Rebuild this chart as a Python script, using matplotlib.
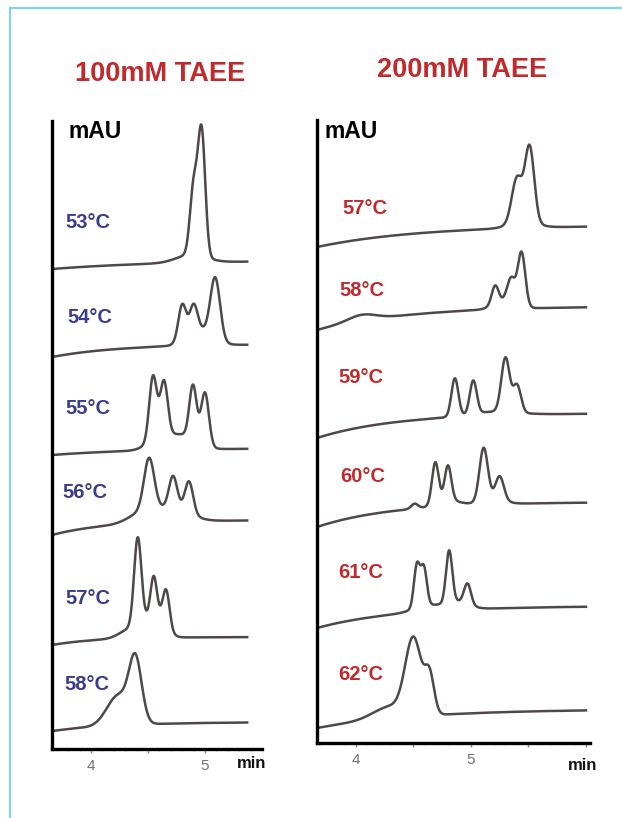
import numpy as np
import matplotlib
matplotlib.use("Agg")
import matplotlib.pyplot as plt
from matplotlib.lines import Line2D
from matplotlib.ticker import FixedLocator, MultipleLocator

plt.rcParams['font.family'] = ["Liberation Sans", "DejaVu Sans"]

W, H = 622, 818

# ---------------- data ----------------
panel_titles = ["100mM TAEE", "200mM TAEE"]
left_temps = ["53°C", "54°C", "55°C", "56°C", "57°C", "58°C"]
right_temps = ["57°C", "58°C", "59°C", "60°C", "61°C", "62°C"]
tick_values = [4, 5]
tick_labels = ["4", "5"]

# baselines: (start level, end level, drift time constant in min)
left_baselines = [(480, 489, 1.0), (392, 405, 0.6), (294, 301, 0.8),
                  (214, 229, 0.5), (104, 112, 0.4), (18, 27, 0.6)]
right_baselines = [(496, 518, 0.9), (413, 437, 0.8), (305, 330, 0.68),
                   (216, 241, 0.65), (115, 137, 0.7), (15, 34, 0.9)]

# broad humps: (time, amplitude, width)
left_humps = [[(4.88, 8, 0.13)],
              [(4.95, 16, 0.11)],
              [(4.59, 10, 0.10), (4.80, 14, 0.12)],
              [(4.45, 10, 0.12), (4.72, 14, 0.14)],
              [(4.36, 10, 0.10), (4.56, 24, 0.08)],
              [(4.24, 30, 0.10)]]
right_humps = [[(5.45, 6, 0.12)],
               [(4.05, 6, 0.12), (5.30, 8, 0.10)],
               [(5.20, 4, 0.20)],
               [(4.51, 5, 0.03), (4.80, 6, 0.10), (5.18, 6, 0.10)],
               [(4.62, 6, 0.12), (4.88, 8, 0.10)],
               [(4.30, 12, 0.15)]]

# peaks: (retention time [min], apex height above baseline, width)
peaks_L53 = [(4.90, 86, 0.032), (4.97, 137, 0.032)]
peaks_L54 = [(4.80, 42, 0.034), (4.90, 42, 0.034), (5.09, 68, 0.042)]
peaks_L55 = [(4.544, 75, 0.033), (4.64, 70, 0.033), (4.895, 65, 0.032), (5.00, 57, 0.034)]
peaks_L56 = [(4.51, 65, 0.045), (4.72, 46, 0.036), (4.86, 40, 0.036)]
peaks_L57 = [(4.41, 101, 0.032), (4.55, 62, 0.027), (4.66, 48, 0.030)]
peaks_L58 = [(4.39, 71, 0.055)]

peaks_R57 = [(5.40, 52, 0.045), (5.51, 83, 0.040)]
peaks_R58 = [(5.21, 24, 0.030), (5.35, 32, 0.035), (5.44, 57, 0.032)]
peaks_R59 = [(4.86, 39, 0.030), (5.02, 36, 0.030), (5.30, 58, 0.036), (5.40, 31, 0.034)]
peaks_R60 = [(4.69, 45, 0.029), (4.80, 41, 0.029), (5.11, 57, 0.036), (5.25, 28, 0.036)]
peaks_R61 = [(4.53, 50, 0.026), (4.59, 47, 0.026), (4.81, 60, 0.027), (4.97, 26, 0.030)]
peaks_R62 = [(4.50, 80, 0.070), (4.64, 48, 0.040)]

left_peaks = [peaks_L53, peaks_L54, peaks_L55, peaks_L56, peaks_L57, peaks_L58]
right_peaks = [peaks_R57, peaks_R58, peaks_R59, peaks_R60, peaks_R61, peaks_R62]

# label positions (pixels)
left_label_xy = [(88, 223), (90, 317), (88, 409), (85, 493), (88, 598), (87, 685)]
right_label_xy = [(365, 208), (362, 290), (361, 378), (363, 476), (361, 572), (361, 675)]

# ---------------- helpers ----------------
def gauss(t, c, a, s):
    return a * np.exp(-0.5 * ((t - c) / s) ** 2)


def trace(t, t0, base, humps, peaks):
    y0, y1, tau = base
    y = y1 - (y1 - y0) * np.exp(-(t - t0) / tau)
    for c, a, s in humps:
        y = y + gauss(t, c, a, s)
    c = np.array([p[0] for p in peaks])
    h = np.array([p[1] for p in peaks], dtype=float)
    s = np.array([p[2] for p in peaks])
    hump_at = np.zeros_like(c)
    for hc, ha, hs in humps:
        hump_at = hump_at + gauss(c, hc, ha, hs)
    G = np.exp(-0.5 * ((c[:, None] - c[None, :]) / s[None, :]) ** 2)
    amp = np.linalg.solve(G, h - hump_at)
    for ci, ai, si in zip(c, amp, s):
        y = y + gauss(t, ci, ai, si)
    return y


def fx(x):
    return x / W


def fy(y):
    return 1 - y / H


fig = plt.figure(figsize=(W / 100, H / 100), dpi=100)
fig.patch.set_facecolor("white")

# light blue frame lines (top and left)
fig.add_artist(Line2D([fx(10), fx(10)], [0, fy(8)], color="#66d2f2", lw=1.3))
fig.add_artist(Line2D([fx(10), 1], [fy(8), fy(8)], color="#66d2f2", lw=1.3))

red = "#c12a2c"
blue = "#3a3c8c"
trace_color = "#4f4848"

panels = [
    dict(px=(52, 262), py=(121, 749), xlim=(3.658, 5.50), t_end=5.37,
         baselines=left_baselines, humps=left_humps, peaks=left_peaks,
         temps=left_temps, lab=left_label_xy, color=blue,
         title_xy=(160, 74), mau_xy=(95, 132), min_xy=(252, 763),
         majors=[4, 4.5, 5]),
    dict(px=(317, 590), py=(120, 743), xlim=(3.661, 6.035), t_end=6.0,
         baselines=right_baselines, humps=right_humps, peaks=right_peaks,
         temps=right_temps, lab=right_label_xy, color=red,
         title_xy=(462, 70), mau_xy=(351, 132), min_xy=(583, 766),
         majors=[4, 4.5, 5, 5.5, 6]),
]

for i, p in enumerate(panels):
    x0, x1 = p["px"]
    ytop, ybot = p["py"]
    ax = fig.add_axes([fx(x0), fy(ybot), (x1 - x0) / W, (ybot - ytop) / H])
    ax.set_xlim(*p["xlim"])
    ax.set_ylim(0, ybot - ytop)
    for side in ("top", "right"):
        ax.spines[side].set_visible(False)
    for side in ("left", "bottom"):
        ax.spines[side].set_linewidth(2.4)
        ax.spines[side].set_color("black")
    ax.set_yticks([])
    ax.xaxis.set_major_locator(FixedLocator(p["majors"]))
    ax.set_xticklabels([tick_labels[tick_values.index(v)] if v in tick_values else ""
                        for v in p["majors"]])
    ax.xaxis.set_minor_locator(MultipleLocator(0.1))
    ax.tick_params(axis="x", which="major", length=3, width=1, color="#8a8a8a",
                   labelcolor="#707070", labelsize=11, pad=4)
    ax.tick_params(axis="x", which="minor", length=1.5, width=0.8, color="#b0b0b0")

    t0 = p["xlim"][0]
    t = np.linspace(t0 + 0.01, p["t_end"], 1500)
    for base, humps, peaks in zip(p["baselines"], p["humps"], p["peaks"]):
        y = trace(t, t0, base, humps, peaks)
        ax.plot(t, y, color=trace_color, lw=1.8, solid_joinstyle="round")

    for txt, (lx, ly) in zip(p["temps"], p["lab"]):
        fig.text(fx(lx), fy(ly), txt, color=p["color"], fontsize=14.5,
                 fontweight="bold", ha="center", va="center")

    fig.text(fx(p["title_xy"][0]), fy(p["title_xy"][1]), panel_titles[i],
             color=red, fontsize=19.5, fontweight="bold", ha="center", va="center")
    fig.text(fx(p["mau_xy"][0]), fy(p["mau_xy"][1]), "mAU", color="black",
             fontsize=16.5, fontweight="bold", ha="center", va="center")
    fig.text(fx(p["min_xy"][0]), fy(p["min_xy"][1]), "min", color="#111111",
             fontsize=12, fontweight="bold", ha="center", va="center")

fig.savefig("out.png", dpi=100, facecolor="white")
